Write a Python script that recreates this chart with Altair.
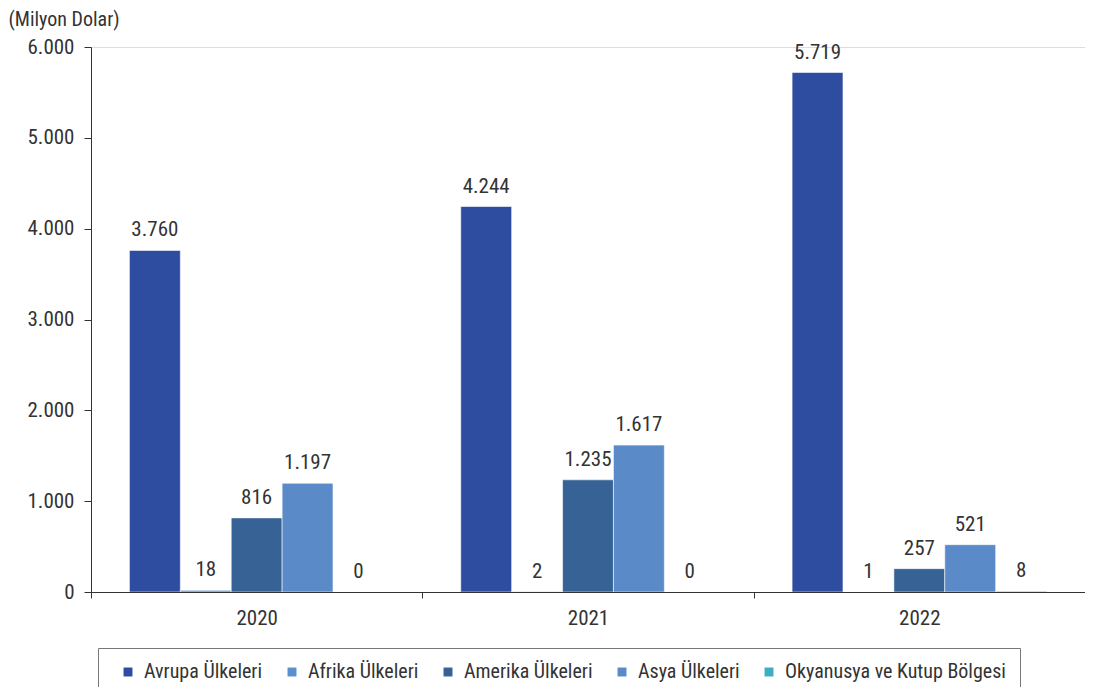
import altair as alt
import pandas as pd

years = ["2020", "2021", "2022"]
series = ["Avrupa Ülkeleri", "Afrika Ülkeleri", "Amerika Ülkeleri", "Asya Ülkeleri", "Okyanusya ve Kutup Bölgesi"]
avrupa = [3760, 4244, 5719]
afrika = [18, 2, 1]
amerika = [816, 1235, 257]
asya = [1197, 1617, 521]
okyanusya = [0, 0, 8]
colors = ["#2E4DA0", "#5B90CF", "#366295", "#5A8BC8", "#3FACC6"]

rows = []
for s, vals in zip(series, [avrupa, afrika, amerika, asya, okyanusya]):
    for y, v in zip(years, vals):
        rows.append({"year": y, "series": s, "value": v, "label": f"{v:,}".replace(",", ".")})
df = pd.DataFrame(rows)

FONT = "Roboto Condensed"
FW = 400
FS = 21
TC = "#333333"

x = alt.X("year:N", sort=years, title=None,
          scale=alt.Scale(paddingInner=0, paddingOuter=0),
          axis=alt.Axis(labelAngle=0, tickBand="extent", tickSize=6, labelPadding=9,
                        labelFontSize=FS, labelColor=TC, domainColor="#333", tickColor="#333",
                        labelFont=FONT, labelFontWeight=FW, zindex=1))
xo = alt.XOffset("series:N", sort=series, scale=alt.Scale(paddingInner=0, paddingOuter=0.755))

bars = alt.Chart(df).mark_bar(stroke="white", strokeWidth=0.8, strokeOpacity=0.7).encode(
    x=x, xOffset=xo,
    y=alt.Y("value:Q", scale=alt.Scale(domain=[0, 6000], nice=False),
            axis=alt.Axis(values=[0, 1000, 2000, 3000, 4000, 5000, 6000], grid=False,
                          labelExpr="replace(format(datum.value, ','), /,/g, '.')",
                          tickSize=7, labelPadding=10, labelFontSize=FS, labelColor=TC,
                          domainColor="#333", tickColor="#333", labelFont=FONT,
                          labelFontWeight=FW,
                          title="(Milyon Dolar)", titleAngle=0, titleX=-83, titleY=-22,
                          titleAlign="left", titleBaseline="alphabetic", titleFontSize=20,
                          titleFontWeight=FW, titleColor=TC, titleFont=FONT)),
    color=alt.Color("series:N", sort=series, scale=alt.Scale(domain=series, range=colors),
                    legend=alt.Legend(orient="none", legendX=7, legendY=601, direction="horizontal",
                                      title=None, symbolType="square", symbolSize=80,
                                      symbolStrokeWidth=0, symbolOpacity=1, labelFontSize=FS - 1,
                                      labelFont=FONT, labelColor=TC, strokeColor="#777",
                                      labelFontWeight=FW,
                                      padding=14, columnPadding=13, labelOffset=6,
                                      symbolOffset=6, labelLimit=400)),
)

labels = alt.Chart(df).mark_text(baseline="alphabetic", dy=-14, fontSize=FS, font=FONT,
                                 fontWeight=FW, color=TC).encode(
    x=x, xOffset=xo, y="value:Q", text="label:N")

chart = (bars + labels).properties(
    width=994, height=545,
    autosize=alt.AutoSizeParams(type="none"),
    padding={"left": 83, "top": 39, "right": 0, "bottom": 95},
).configure_view(stroke=None).configure(background="white")

chart.save("out.html", embed_options={"renderer": "svg", "actions": False})
